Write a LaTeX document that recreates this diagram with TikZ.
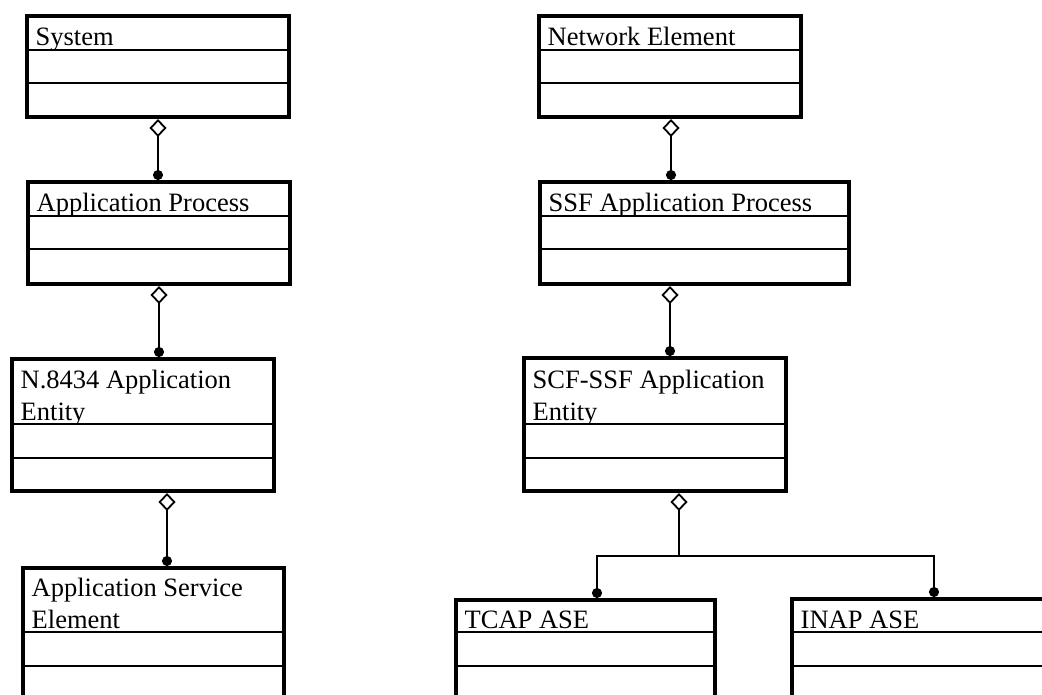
\documentclass[tikz,border=0pt]{standalone}
\usepackage{fontspec}
\setmainfont{Liberation Serif}
\usetikzlibrary{arrows.meta}
\tikzset{
  classbox/.style={draw, rectangle, line width=4pt, inner sep=0pt},
  classtext/.style={anchor=base west, inner sep=0pt, align=left,
    font=\fontsize{26.5}{32}\selectfont},
  seprule/.style={line width=1.8pt},
  conn/.style={line width=1.8pt},
  aggtip/.style={conn, {Diamond[open,length=18pt,width=17pt]}-{Circle[length=10pt]}},
  aggstart/.style={conn, {Diamond[open,length=18pt,width=17pt]}-},
  dotend/.style={conn, -{Circle[length=10pt]}}
}
% name, x1, y1, x2, y2, sep1, sep2, text (baseline of last line 4pt above sep1)
\newcommand\umlclass[8]{%
  \begin{scope}
    \clip (#2,#3) rectangle (#4,#6);
    \node[classtext] (#1-name) at (#2+8.5,#6-4) {#8};
  \end{scope}
  \node[classbox, minimum width={#4-#2}, minimum height={#5-#3}] (#1)
    at ({(#2+#4)/2},{(#3+#5)/2}) {};
  \draw[seprule] (#2,#6) -- (#4,#6) (#2,#7) -- (#4,#7);
}
\begin{document}
\begin{tikzpicture}[x=1pt, y=-1pt]
  \useasboundingbox (0,0) rectangle (1042,695);
  \clip (0,0) rectangle (1042,695);
  \fill[white] (0,0) rectangle (1042,695);

  % left column
  \umlclass{sys}{27}{16}{289}{117}{50}{83}{System}
  \umlclass{ap}{28}{182}{290}{284}{216}{249}{Application Process}
  \umlclass{nent}{12}{359}{274}{491}{424}{458}{N.8434 Application\\Entity}
  \umlclass{ase}{23}{568}{284}{700}{632}{666}{Application Service\\Element}

  % right column
  \umlclass{ne}{539}{16}{801}{117}{50}{83}{Network Element}
  \umlclass{ssf}{540}{182}{849}{284}{216}{249}{SSF Application Process}
  \umlclass{scf}{524}{358}{786}{491}{424}{458}{SCF-SSF Application\\Entity}
  \umlclass{tcap}{456}{600}{715}{700}{632}{666}{TCAP ASE}
  \umlclass{inap}{792}{599}{1054}{700}{632}{666}{INAP ASE}

  % aggregations, left
  \draw[aggtip] ([xshift=0pt]sys.south) -- ([xshift=-1pt]ap.north);
  \draw[aggtip] ([xshift=0pt]ap.south) -- ([xshift=16pt]nent.north);
  \draw[aggtip] ([xshift=24pt]nent.south) -- ([xshift=13.5pt]ase.north);

  % aggregations, right
  \draw[aggtip] ([xshift=1pt]ne.south) -- ([xshift=-23.5pt]ssf.north);
  \draw[aggtip] ([xshift=-24.5pt]ssf.south) -- ([xshift=15pt]scf.north);

  \coordinate (fork) at (679,556);
  \draw[aggstart] ([xshift=24pt]scf.south) -- (fork);
  \draw[dotend] (fork) -| ([xshift=11.5pt]tcap.north);
  \draw[dotend] (fork) -| ([xshift=11pt]inap.north);
\end{tikzpicture}
\end{document}
